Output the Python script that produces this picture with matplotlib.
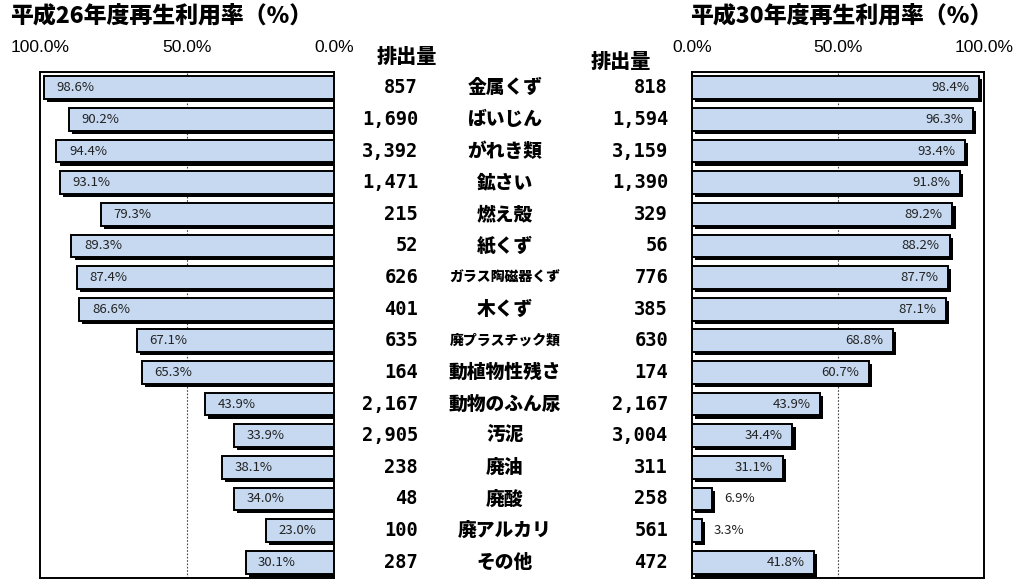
import matplotlib
matplotlib.use("Agg")
import matplotlib.pyplot as plt
import matplotlib.patheffects as pe
from matplotlib.transforms import blended_transform_factory

categories = ["金属くず", "ばいじん", "がれき類", "鉱さい", "燃え殻", "紙くず",
              "ガラス陶磁器くず", "木くず", "廃プラスチック類", "動植物性残さ",
              "動物のふん尿", "汚泥", "廃油", "廃酸", "廃アルカリ", "その他"]
rate_h26 = [98.6, 90.2, 94.4, 93.1, 79.3, 89.3, 87.4, 86.6, 67.1, 65.3,
            43.9, 33.9, 38.1, 34.0, 23.0, 30.1]
emis_h26 = [857, 1690, 3392, 1471, 215, 52, 626, 401, 635, 164,
            2167, 2905, 238, 48, 100, 287]
rate_h30 = [98.4, 96.3, 93.4, 91.8, 89.2, 88.2, 87.7, 87.1, 68.8, 60.7,
            43.9, 34.4, 31.1, 6.9, 3.3, 41.8]
emis_h30 = [818, 1594, 3159, 1390, 329, 56, 776, 385, 630, 174,
            2167, 3004, 311, 258, 561, 472]
title_h26 = "平成26年度再生利用率（%）"
title_h30 = "平成30年度再生利用率（%）"
header = "排出量"
tick_vals = [0, 50, 100]
tick_labels = ["0.0%", "50.0%", "100.0%"]

JP = "Noto Sans CJK JP"
BAR_FC = "#C6D9F1"
W, H = 1027, 579
fig = plt.figure(figsize=(W / 100, H / 100), dpi=100)

def fx(px):
    return px / W

def fy(py):
    return 1 - py / H

ax_top, ax_bot = 72, 578
axL = fig.add_axes([fx(40), fy(ax_bot), fx(334 - 40), (ax_bot - ax_top) / H])
axR = fig.add_axes([fx(692), fy(ax_bot), fx(984 - 692), (ax_bot - ax_top) / H])

n = len(categories)
ypos = list(range(n))
shadow = [pe.SimplePatchShadow(offset=(2.2, -2.2), shadow_rgbFace="black", alpha=1.0), pe.Normal()]

for ax, rates, xlim in [(axL, rate_h26, (100, 0)), (axR, rate_h30, (0, 99.2))]:
    bars = ax.barh(ypos, rates, height=0.72, color=BAR_FC, edgecolor="black",
                   linewidth=1.4, zorder=3)
    for b in bars:
        b.set_path_effects(shadow)
    ax.set_xlim(*xlim)
    ax.set_ylim(n - 0.5, -0.5)
    ax.axvline(50, color="#444444", lw=0.8, ls=(0, (1.5, 1.5)), zorder=1)
    ax.set_yticks([])
    ax.xaxis.tick_top()
    ax.set_xticks(tick_vals)
    ax.set_xticklabels(tick_labels, fontsize=12.5, family="Liberation Sans")
    ax.tick_params(axis="x", length=0, pad=12)
    for s in ax.spines.values():
        s.set_linewidth(1.4)
        s.set_color("black")

# value labels
for i, v in enumerate(rate_h26):
    axL.annotate(f"{v:.1f}%", xy=(v, i), xytext=(9, 0), textcoords="offset points",
                 ha="left", va="center", fontsize=9.5, family=JP, color="#222222", zorder=5)
for i, v in enumerate(rate_h30):
    if v < 15:
        axR.annotate(f"{v:.1f}%", xy=(v, i), xytext=(9, 0), textcoords="offset points",
                     ha="left", va="center", fontsize=9.5, family=JP, color="#222222", zorder=5)
    else:
        axR.annotate(f"{v:.1f}%", xy=(v, i), xytext=(-7, 0), textcoords="offset points",
                     ha="right", va="center", fontsize=9.5, family=JP, color="#222222", zorder=5)

# titles
fig.text(fx(10), fy(16), title_h26, ha="left", va="center", fontsize=16.5,
         fontweight="heavy", family=JP)
fig.text(fx(690), fy(16), title_h30, ha="left", va="center", fontsize=16.5,
         fontweight="heavy", family=JP)

# headers
fig.text(fx(407), fy(57), header, ha="center", va="center", fontsize=14.5,
         fontweight="heavy", family=JP)
fig.text(fx(621), fy(62), header, ha="center", va="center", fontsize=14.5,
         fontweight="heavy", family=JP)

tr = blended_transform_factory(fig.transFigure, axL.transData)
for i in range(n):
    fig.text(fx(418), i, f"{emis_h26[i]:,}", transform=tr, ha="right", va="center",
             fontsize=13.5, fontweight="bold", family="DejaVu Sans Mono")
    fig.text(fx(668), i, f"{emis_h30[i]:,}", transform=tr, ha="right", va="center",
             fontsize=13.5, fontweight="bold", family="DejaVu Sans Mono")
    name = categories[i]
    fs = 10 if len(name) >= 8 else 13.5
    fig.text(fx(505), i, name, transform=tr, ha="center", va="center",
             fontsize=fs, fontweight="heavy", family=JP)

fig.savefig("out.png", dpi=100)
